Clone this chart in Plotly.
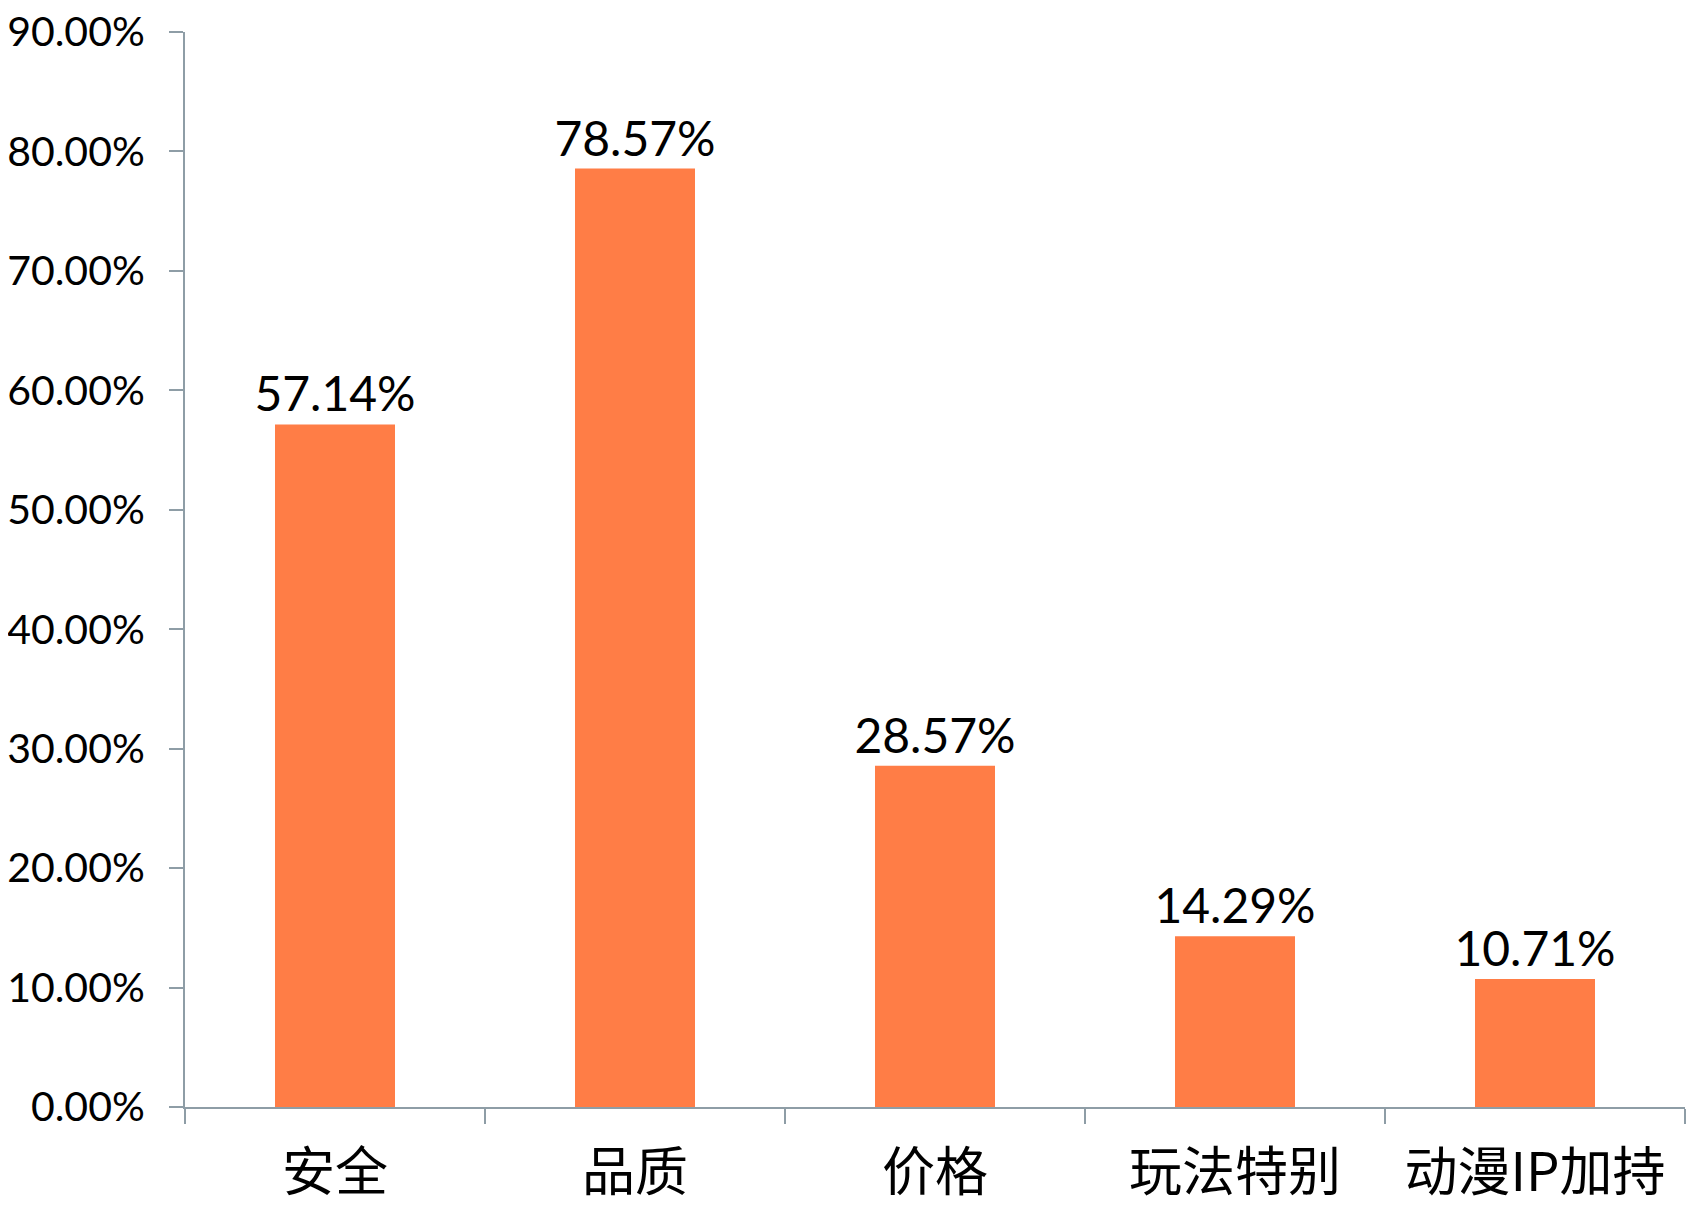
import plotly.graph_objects as go

# 数据
categories = ["安全", "品质", "价格", "玩法特别", "动漫IP加持"]
values = [0.5714, 0.7857, 0.2857, 0.1429, 0.1071]

bar_color = "#FF7D46"
axis_color = "#8E9DA6"

fig = go.Figure()

fig.add_trace(go.Bar(
    x=categories,
    y=values,
    width=0.4,
    marker=dict(color=bar_color, line=dict(width=0)),
    texttemplate="%{y:.2%}",
    textposition="outside",
    constraintext="none",
    textfont=dict(family="Lato", size=48, color="black"),
    cliponaxis=False,
))

fig.update_layout(
    width=1702, height=1207,
    paper_bgcolor="white",
    plot_bgcolor="white",
    margin=dict(l=177, r=25, t=24, b=108),
    showlegend=False,
    xaxis=dict(
        type="category",
        tickson="boundaries",
        ticks="outside",
        ticklen=15,
        tickwidth=2,
        tickcolor=axis_color,
        showline=True,
        linecolor=axis_color,
        linewidth=2,
        showgrid=False,
        ticklabelstandoff=18,
        tickfont=dict(family="Noto Sans CJK SC", size=53, color="black"),
        automargin=False,
    ),
    yaxis=dict(
        range=[0, 0.9],
        dtick=0.1,
        tickformat=".2%",
        ticks="outside",
        ticklen=14,
        tickwidth=2,
        tickcolor=axis_color,
        showline=True,
        linecolor=axis_color,
        linewidth=2,
        showgrid=False,
        zeroline=False,
        ticklabelstandoff=16,
        ticklabeloverflow="allow",
        tickfont=dict(family="Lato", size=41, color="black"),
        automargin=False,
    ),
)

fig.write_html("out.html")
